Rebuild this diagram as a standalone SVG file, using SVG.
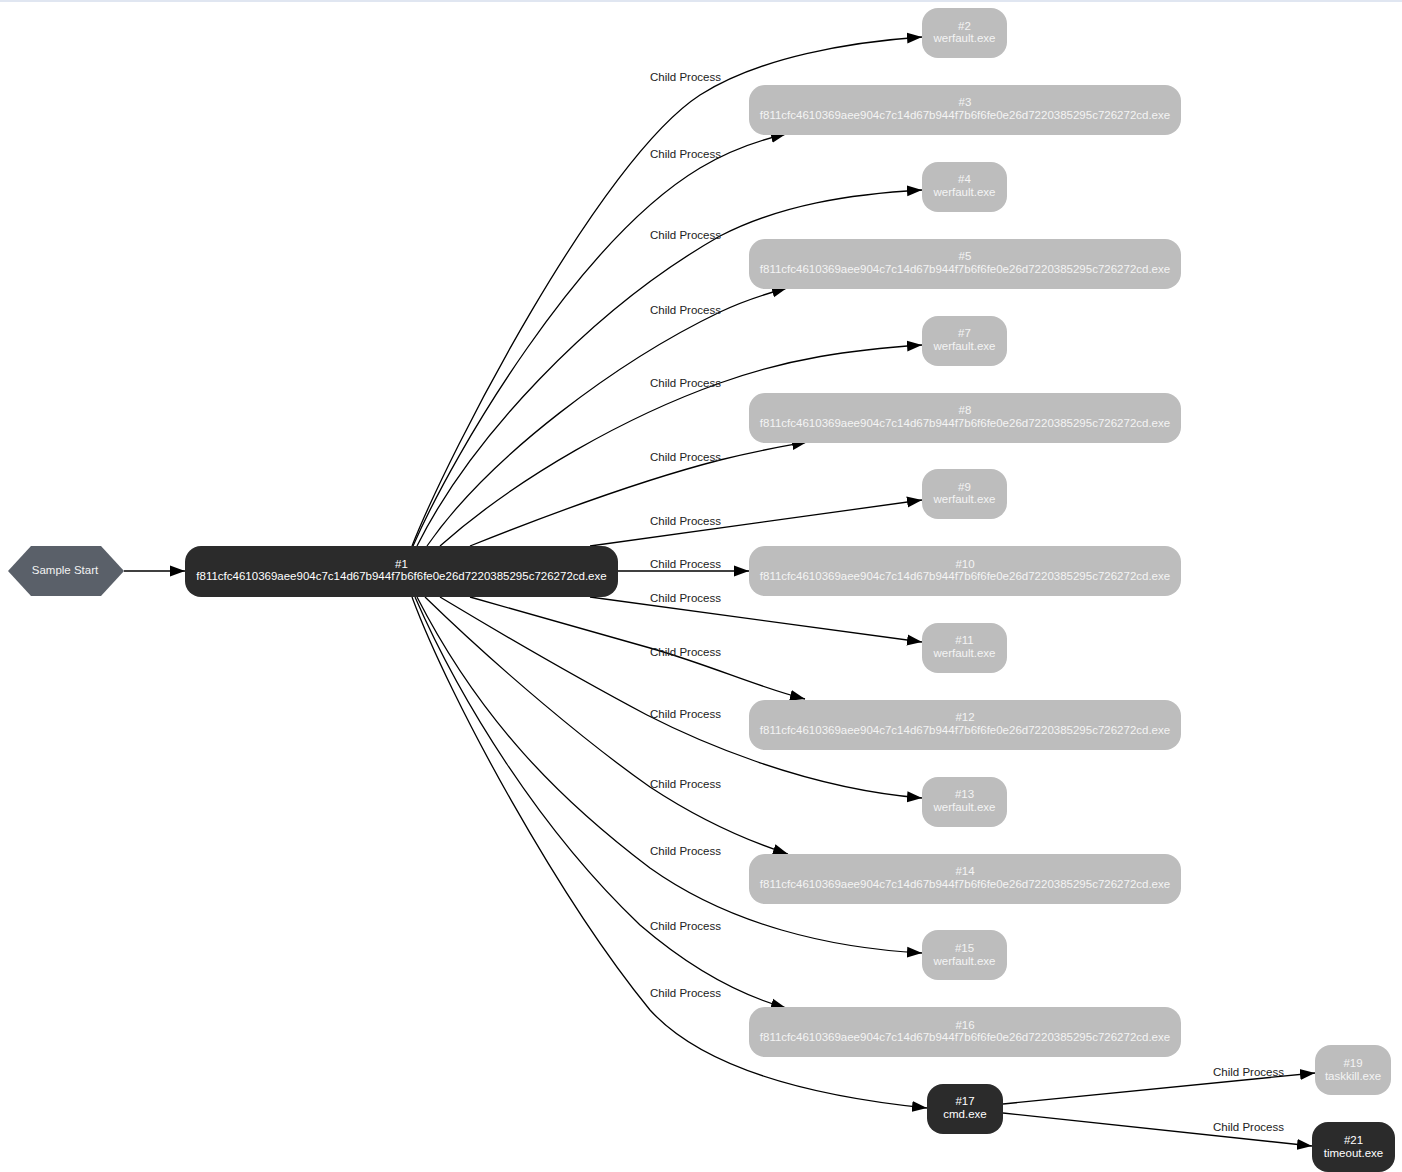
<svg xmlns="http://www.w3.org/2000/svg" width="1402" height="1172" viewBox="0 0 1402 1172">
<style>
.t{font-family:"Liberation Sans",Arial,sans-serif;font-size:11.5px;text-anchor:middle;}
.g rect{fill:#bdbdbd;}
.g text{fill:#f4f4f4;}
.d rect{fill:#2b2b2b;}
.d text{fill:#ffffff;}
.e{fill:none;stroke:#000;stroke-width:1.3;marker-end:url(#ah);}
.lb{font-family:"Liberation Sans",Arial,sans-serif;font-size:11.5px;fill:#222;}
</style>
<defs>
<marker id="ah" markerUnits="userSpaceOnUse" markerWidth="15" markerHeight="12" refX="15" refY="6" orient="auto">
<path d="M0,0.5 L15,6 L0,11.5 z" fill="#000"/>
</marker>
</defs>
<rect x="0" y="0" width="1402" height="1172" fill="#fff"/>
<rect x="0" y="0" width="1402" height="2" fill="#e0e6f1"/>
<g id="connectors">
<path class="e" d="M124,571 L185,571"/>
<path class="e" d="M412,546 C450,450 600,160 700,95 C760,57 850,42 922,37"/>
<path class="e" d="M413,546 C455,450 580,240 700,168 C730,150 760,140 786,134"/>
<path class="e" d="M417,546 C470,440 590,310 720,236 C780,205 850,194 922,190"/>
<path class="e" d="M427,546 C490,455 620,360 720,312 C745,300 765,294 787,288"/>
<path class="e" d="M440,546 C520,475 630,415 720,383 C790,358 850,350 922,345"/>
<path class="e" d="M470,546 C560,510 650,478 720,460 C760,450 785,446 807,442"/>
<path class="e" d="M590,546 L922,500"/>
<path class="e" d="M618,571 L749,571"/>
<path class="e" d="M590,597 L922,642"/>
<path class="e" d="M470,597 C560,622 620,640 650,648 C710,665 760,688 805,699"/>
<path class="e" d="M440,597 C520,645 600,690 647,715 C690,737 800,788 922,798"/>
<path class="e" d="M425,597 C500,670 590,745 650,787 C700,820 745,840 788,854"/>
<path class="e" d="M417,597 C480,720 560,800 650,868 C730,925 830,948 922,953"/>
<path class="e" d="M415,597 C460,700 540,830 640,925 C690,968 740,995 786,1008"/>
<path class="e" d="M412,597 C450,700 560,900 650,1010 C700,1065 800,1095 927,1108"/>
<path class="e" d="M1003,1104 L1315,1073"/>
<path class="e" d="M1003,1113 L1312,1146"/>
<text class="lb" x="650" y="81">Child Process</text>
<text class="lb" x="650" y="158">Child Process</text>
<text class="lb" x="650" y="239">Child Process</text>
<text class="lb" x="650" y="314">Child Process</text>
<text class="lb" x="650" y="387">Child Process</text>
<text class="lb" x="650" y="461">Child Process</text>
<text class="lb" x="650" y="525">Child Process</text>
<text class="lb" x="650" y="568">Child Process</text>
<text class="lb" x="650" y="602">Child Process</text>
<text class="lb" x="650" y="656">Child Process</text>
<text class="lb" x="650" y="718">Child Process</text>
<text class="lb" x="650" y="788">Child Process</text>
<text class="lb" x="650" y="855">Child Process</text>
<text class="lb" x="650" y="930">Child Process</text>
<text class="lb" x="650" y="997">Child Process</text>
<text class="lb" x="1213" y="1076">Child Process</text>
<text class="lb" x="1213" y="1131">Child Process</text>
</g>
<g id="start">
<polygon points="8,571 31,546 101,546 124,571 101,596 31,596" fill="#5a6069"/>
<text class="t" x="65" y="574" fill="#f2f2f2">Sample Start</text>
</g>
<g id="n1" class="d">
<rect x="185" y="546" width="433" height="51" rx="16"/>
<text class="t" x="401.5" y="568">#1</text>
<text class="t" x="401.5" y="580">f811cfc4610369aee904c7c14d67b944f7b6f6fe0e26d7220385295c726272cd.exe</text>
</g>
<g id="n2" class="g"><rect x="922" y="8" width="85" height="50" rx="16"/><text class="t" x="964.5" y="30">#2</text><text class="t" x="964.5" y="42">werfault.exe</text></g>
<g id="n3" class="g"><rect x="749" y="85" width="432" height="50" rx="16"/><text class="t" x="965" y="106">#3</text><text class="t" x="965" y="119">f811cfc4610369aee904c7c14d67b944f7b6f6fe0e26d7220385295c726272cd.exe</text></g>
<g id="n4" class="g"><rect x="922" y="162" width="85" height="50" rx="16"/><text class="t" x="964.5" y="183">#4</text><text class="t" x="964.5" y="196">werfault.exe</text></g>
<g id="n5" class="g"><rect x="749" y="239" width="432" height="50" rx="16"/><text class="t" x="965" y="260">#5</text><text class="t" x="965" y="273">f811cfc4610369aee904c7c14d67b944f7b6f6fe0e26d7220385295c726272cd.exe</text></g>
<g id="n7" class="g"><rect x="922" y="316" width="85" height="50" rx="16"/><text class="t" x="964.5" y="337">#7</text><text class="t" x="964.5" y="350">werfault.exe</text></g>
<g id="n8" class="g"><rect x="749" y="393" width="432" height="50" rx="16"/><text class="t" x="965" y="414">#8</text><text class="t" x="965" y="427">f811cfc4610369aee904c7c14d67b944f7b6f6fe0e26d7220385295c726272cd.exe</text></g>
<g id="n9" class="g"><rect x="922" y="469" width="85" height="50" rx="16"/><text class="t" x="964.5" y="491">#9</text><text class="t" x="964.5" y="503">werfault.exe</text></g>
<g id="n10" class="g"><rect x="749" y="546" width="432" height="50" rx="16"/><text class="t" x="965" y="568">#10</text><text class="t" x="965" y="580">f811cfc4610369aee904c7c14d67b944f7b6f6fe0e26d7220385295c726272cd.exe</text></g>
<g id="n11" class="g"><rect x="922" y="623" width="85" height="50" rx="16"/><text class="t" x="964.5" y="644">#11</text><text class="t" x="964.5" y="657">werfault.exe</text></g>
<g id="n12" class="g"><rect x="749" y="700" width="432" height="50" rx="16"/><text class="t" x="965" y="721">#12</text><text class="t" x="965" y="734">f811cfc4610369aee904c7c14d67b944f7b6f6fe0e26d7220385295c726272cd.exe</text></g>
<g id="n13" class="g"><rect x="922" y="777" width="85" height="50" rx="16"/><text class="t" x="964.5" y="798">#13</text><text class="t" x="964.5" y="811">werfault.exe</text></g>
<g id="n14" class="g"><rect x="749" y="854" width="432" height="50" rx="16"/><text class="t" x="965" y="875">#14</text><text class="t" x="965" y="888">f811cfc4610369aee904c7c14d67b944f7b6f6fe0e26d7220385295c726272cd.exe</text></g>
<g id="n15" class="g"><rect x="922" y="930" width="85" height="50" rx="16"/><text class="t" x="964.5" y="952">#15</text><text class="t" x="964.5" y="965">werfault.exe</text></g>
<g id="n16" class="g"><rect x="749" y="1007" width="432" height="50" rx="16"/><text class="t" x="965" y="1029">#16</text><text class="t" x="965" y="1041">f811cfc4610369aee904c7c14d67b944f7b6f6fe0e26d7220385295c726272cd.exe</text></g>
<g id="n17" class="d"><rect x="927" y="1084" width="76" height="50" rx="16"/><text class="t" x="965" y="1105">#17</text><text class="t" x="965" y="1118">cmd.exe</text></g>
<g id="n19" class="g"><rect x="1315" y="1045" width="76" height="50" rx="16"/><text class="t" x="1353" y="1067">#19</text><text class="t" x="1353" y="1080">taskkill.exe</text></g>
<g id="n21" class="d"><rect x="1312" y="1122" width="83" height="50" rx="16"/><text class="t" x="1353.5" y="1144">#21</text><text class="t" x="1353.5" y="1157">timeout.exe</text></g>
</svg>
